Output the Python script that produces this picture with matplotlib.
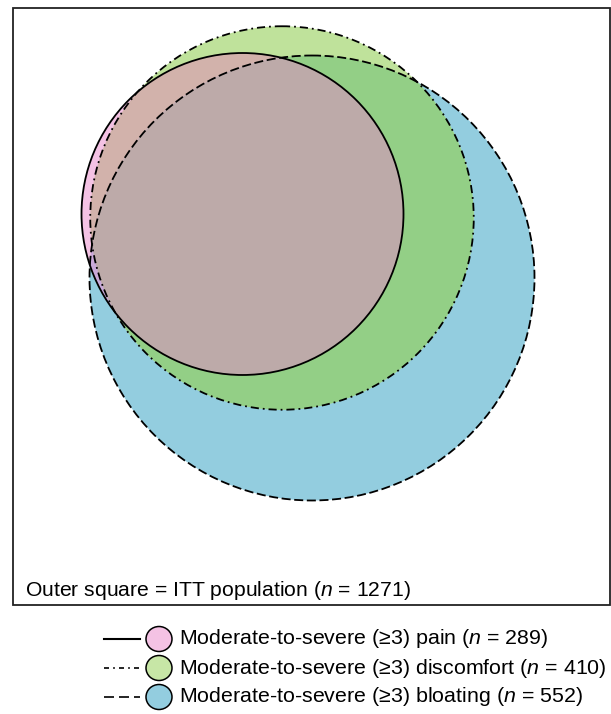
import matplotlib
matplotlib.use("Agg")
import matplotlib.pyplot as plt
import numpy as np
from matplotlib.patches import Circle, Ellipse, Polygon, Rectangle

plt.rcParams['font.family'] = ['Liberation Sans', 'DejaVu Sans']
plt.rcParams['mathtext.fontset'] = 'custom'
plt.rcParams['mathtext.rm'] = 'Liberation Sans'
plt.rcParams['mathtext.it'] = 'Liberation Sans:italic'

# data
groups = ['pain', 'discomfort', 'bloating']
counts = [289, 410, 552]
itt_n = 1271
labels = ['Moderate-to-severe (\u22653) %s ($n$ = %d)' % (g, n) for g, n in zip(groups, counts)]

# layout (pixel coords, y down)
centers = [(242.5, 214), (282, 218), (312, 278)]
k = 9.47  # px per sqrt(n)
radii = [k * np.sqrt(n) for n in counts]

col_pain = '#f4c2e4'
col_disc = '#bfe29b'
col_bloat = '#93cddf'
col_disc_bloat = '#93cf86'
col_pain_disc = '#d2b2ab'
col_pain_bloat = '#c9a9d9'
col_all = '#bdaaa9'

styles = ['-', (0, (4.5, 2.2, 1, 2.2)), (0, (5, 2))]


def inside(p, c, r):
    return (p[:, 0] - c[0]) ** 2 + (p[:, 1] - c[1]) ** 2 <= r ** 2 + 1e-6


def region(idx):
    # intersection of convex circles -> polygon
    pts = []
    t = np.linspace(0, 2 * np.pi, 2000, endpoint=False)
    for i in idx:
        c, r = centers[i], radii[i]
        p = np.column_stack([c[0] + r * np.cos(t), c[1] + r * np.sin(t)])
        ok = np.ones(len(p), bool)
        for j in idx:
            if j != i:
                ok &= inside(p, centers[j], radii[j])
        pts.append(p[ok])
    pts = np.vstack(pts)
    m = pts.mean(axis=0)
    ang = np.arctan2(pts[:, 1] - m[1], pts[:, 0] - m[0])
    return pts[np.argsort(ang)]


fig = plt.figure(figsize=(6.11, 7.14), dpi=100)
ax = fig.add_axes([0, 0, 1, 1])
ax.set_xlim(0, 611)
ax.set_ylim(714, 0)
ax.axis('off')

# fills
fills = [([2], col_bloat), ([1], col_disc), ([1, 2], col_disc_bloat),
         ([0], col_pain), ([0, 1], col_pain_disc), ([0, 2], col_pain_bloat),
         ([0, 1, 2], col_all)]
for idx, col in fills:
    ax.add_patch(Polygon(region(idx), closed=True, fc=col, ec='none'))

# outlines
for c, r, ls in zip(centers, radii, styles):
    ax.add_patch(Circle(c, r, fill=False, ec='black', lw=1.3, ls=ls))

# outer square
ax.add_patch(Rectangle((12.5, 8), 597.5, 597, fill=False, ec='#222222', lw=1.3))
ax.text(25, 590, 'Outer square = ITT population ($n$ = %d)' % itt_n,
        fontsize=15.2, va='center', ha='left')

# legend
rows = [639, 668, 697]
leg_styles = ['-', (0, (3, 2.5, 1, 2.5)), (0, (6, 3))]
leg_cols = [col_pain, '#c7e6a6', col_bloat]
for y, lab, ls, col in zip(rows, labels, leg_styles, leg_cols):
    ax.plot([104, 140], [y, y], color='black', lw=1.5 if ls == '-' else 1.2, ls=ls)
    ax.add_patch(Ellipse((159, y), 26, 25, fc=col, ec='black', lw=1.1))
    ax.text(179, y, lab, fontsize=15.4, va='center', ha='left')

fig.savefig('out.png', dpi=100)
